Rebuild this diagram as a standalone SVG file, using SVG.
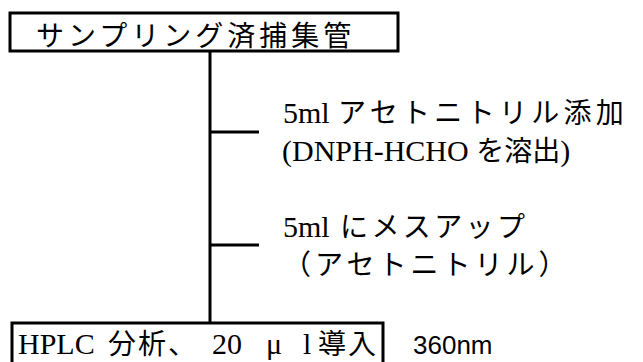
<svg xmlns="http://www.w3.org/2000/svg" width="643" height="362" viewBox="0 0 643 362">
<style>
.box{fill:none;stroke:#000;stroke-width:3}
.ln{stroke:#000;stroke-width:3;fill:none}
.t{font-family:"Liberation Serif","Noto Sans CJK JP",serif;font-size:30px;fill:#000}
.j{font-family:"Noto Sans CJK JP","Liberation Serif",sans-serif;font-size:28px;letter-spacing:4px}
.s{font-family:"Liberation Sans","Noto Sans CJK JP",sans-serif;font-size:26px;fill:#000}
</style>
<rect width="643" height="362" fill="#fff"/>
<g id="connectors">
<line class="ln" x1="210" y1="51" x2="210" y2="323"/>
<line class="ln" x1="210" y1="132" x2="259" y2="132"/>
<line class="ln" x1="210" y1="245" x2="259" y2="245"/>
</g>
<g id="node-top">
<rect class="box" x="10" y="13" width="388" height="38"/>
<text class="t j" x="36" y="46" font-size="29">サンプリング済捕集管</text>
</g>
<g id="step1">
<text class="t" x="283" y="123">5ml <tspan class="j" x="338" font-size="29" style="letter-spacing:4.3px">アセトニトリル添加</tspan></text>
<text class="t" x="282" y="161" font-size="28">(DNPH-HCHO <tspan class="j" font-size="29" style="letter-spacing:0">を溶出</tspan>)</text>
</g>
<g id="step2">
<text class="t" x="283" y="237">5ml <tspan class="j" x="340" style="letter-spacing:3.4px">にメスアップ</tspan></text>
<text class="t j" x="283" y="275">（アセトニトリル）</text>
</g>
<g id="node-bottom">
<path class="box" d="M12,366 V323 H383 V366"/>
<text class="t" y="354" font-size="31"><tspan x="18">HPLC</tspan><tspan class="j" x="108" style="letter-spacing:2px">分析、</tspan><tspan x="212">20</tspan><tspan x="266">μ</tspan><tspan x="303">l</tspan><tspan class="j" x="318" style="letter-spacing:2px">導入</tspan></text>
<text class="s" x="413" y="354">360nm</text>
</g>
</svg>
